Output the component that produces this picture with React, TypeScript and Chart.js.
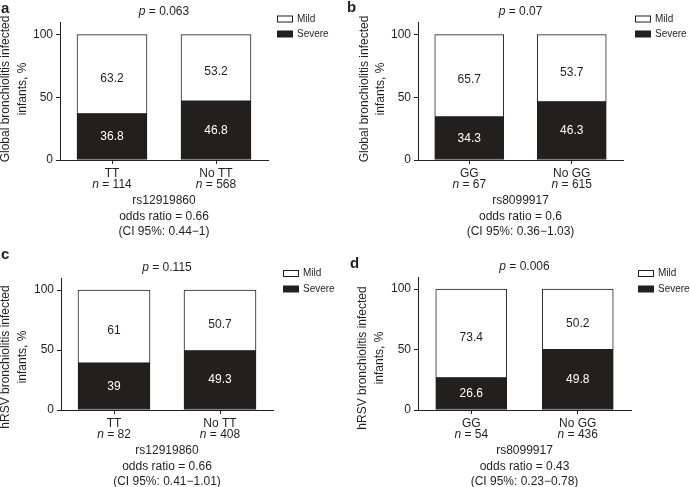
import React, { useEffect, useRef } from 'react';
import { Chart, registerables } from 'chart.js';

Chart.register(...registerables);

// ---------------- data ----------------
const seriesNames = ['Mild', 'Severe'];
const yTicks = [0, 50, 100];
const yMax = 110;

const panelLetters = ['a', 'b', 'c', 'd'];
const pValues = ['0.063', '0.07', '0.115', '0.006'];
const yTitleGlobal = ['Global bronchiolitis infected', 'infants, %'];
const yTitleHrsv = ['hRSV bronchiolitis infected', 'infants, %'];

const categoriesA = ['TT', 'No TT'];
const countsA = [114, 568];
const severeA = [36.8, 46.8];
const mildA = [63.2, 53.2];

const categoriesB = ['GG', 'No GG'];
const countsB = [67, 615];
const severeB = [34.3, 46.3];
const mildB = [65.7, 53.7];

const categoriesC = ['TT', 'No TT'];
const countsC = [82, 408];
const severeC = [39, 49.3];
const mildC = [61, 50.7];

const categoriesD = ['GG', 'No GG'];
const countsD = [54, 436];
const severeD = [26.6, 49.8];
const mildD = [73.4, 50.2];

const snps = ['rs12919860', 'rs8099917', 'rs12919860', 'rs8099917'];
const oddsRatios = ['0.66', '0.6', '0.66', '0.43'];
const confIntervals = ['0.44\u22121', '0.36\u22121.03', '0.41\u22121.01', '0.23\u22120.78'];

const panelCategories = [categoriesA, categoriesB, categoriesC, categoriesD];
const panelCounts = [countsA, countsB, countsC, countsD];
const panelSevere = [severeA, severeB, severeC, severeD];
const panelMild = [mildA, mildB, mildC, mildD];
const panelYTitles = [yTitleGlobal, yTitleGlobal, yTitleHrsv, yTitleHrsv];

// ---------------- layout / style ----------------
const FAMILY = '"Liberation Sans", Arial, Helvetica, sans-serif';
const TEXT = '#231f20';
const DARK = '#221f1f';

type PanelLayout = {
  x: number; y: number; w: number; h: number;
  l: number; r: number; t: number; b: number;
  bar: number;
  titleX: number; titleY: number;
  legendX: number; legendY: number[];
  letterX: number; letterY: number;
};

const layouts: PanelLayout[] = [
  { x: 0, y: 0, w: 345, h: 240, l: 60, r: 268, t: 22, b: 160, bar: 70, titleX: 5.75, titleY: 89, legendX: 277, legendY: [18.5, 34], letterX: 1, letterY: 13 },
  { x: 345, y: 0, w: 345, h: 240, l: 73, r: 278, t: 22, b: 160, bar: 69, titleX: 19.5, titleY: 89, legendX: 290, legendY: [18.5, 34], letterX: 2, letterY: 12 },
  { x: 0, y: 240, w: 345, h: 247, l: 61, r: 273, t: 38, b: 170, bar: 72, titleX: 5.75, titleY: 117, legendX: 283, legendY: [33, 49], letterX: 1, letterY: 19 },
  { x: 345, y: 240, w: 345, h: 247, l: 73, r: 286, t: 37, b: 170, bar: 71, titleX: 18, titleY: 118, legendX: 293, legendY: [33, 49], letterX: 5, letterY: 28 },
];

function drawItalicLead(ctx: CanvasRenderingContext2D, lead: string, rest: string, cx: number, cy: number, size: number) {
  ctx.font = `italic ${size}px ${FAMILY}`;
  const w1 = ctx.measureText(lead).width;
  ctx.font = `${size}px ${FAMILY}`;
  const w2 = ctx.measureText(rest).width;
  const x0 = cx - (w1 + w2) / 2;
  ctx.textAlign = 'left';
  ctx.textBaseline = 'middle';
  ctx.font = `italic ${size}px ${FAMILY}`;
  ctx.fillText(lead, x0, cy);
  ctx.font = `${size}px ${FAMILY}`;
  ctx.fillText(rest, x0 + w1, cy);
}

function makeOverlay(i: number) {
  return {
    id: 'overlay' + i,
    afterDraw(chart: any) {
      const ctx: CanvasRenderingContext2D = chart.ctx;
      const L = layouts[i];
      const ca = chart.chartArea;
      const cxMid = (ca.left + ca.right) / 2;
      ctx.save();
      ctx.fillStyle = TEXT;

      // panel letter
      ctx.font = `bold 15px ${FAMILY}`;
      ctx.textAlign = 'left';
      ctx.textBaseline = 'alphabetic';
      ctx.fillText(panelLetters[i], L.letterX, L.letterY);

      // p value
      drawItalicLead(ctx, 'p', ' = ' + pValues[i], cxMid, ca.top - 10, 12);

      // legend
      const bx = L.legendX;
      ctx.lineWidth = 1;
      ctx.strokeStyle = TEXT;
      ctx.fillStyle = '#ffffff';
      ctx.fillRect(bx + 0.5, L.legendY[0] - 2.5, 15, 6);
      ctx.strokeRect(bx + 0.5, L.legendY[0] - 2.5, 15, 6);
      ctx.fillStyle = DARK;
      ctx.fillRect(bx, L.legendY[1] - 3.5, 16, 7);
      ctx.fillStyle = TEXT;
      ctx.font = `10px ${FAMILY}`;
      ctx.textAlign = 'left';
      ctx.textBaseline = 'middle';
      ctx.fillText(seriesNames[0], bx + 20, L.legendY[0] + 0.5);
      ctx.fillText(seriesNames[1], bx + 20, L.legendY[1]);

      // y axis title
      ctx.save();
      ctx.translate(L.titleX, L.titleY);
      ctx.rotate(-Math.PI / 2);
      ctx.font = `12px ${FAMILY}`;
      ctx.textAlign = 'center';
      ctx.textBaseline = 'middle';
      const lines = panelYTitles[i];
      lines.forEach((ln, k) => ctx.fillText(ln, 0, k * 16.5));
      ctx.restore();

      // x labels
      const xs = chart.scales.x;
      const cats = panelCategories[i];
      const counts = panelCounts[i];
      cats.forEach((c, j) => {
        const px = xs.getPixelForValue(j);
        ctx.fillStyle = TEXT;
        ctx.font = `12px ${FAMILY}`;
        ctx.textAlign = 'center';
        ctx.textBaseline = 'middle';
        ctx.fillText(c, px, ca.bottom + 13.5);
        drawItalicLead(ctx, 'n', ' = ' + counts[j], px, ca.bottom + 25, 12);
      });

      // bottom text
      ctx.font = `12px ${FAMILY}`;
      ctx.textAlign = 'center';
      ctx.textBaseline = 'middle';
      ctx.fillText(snps[i], cxMid, ca.bottom + 40.5);
      ctx.fillText('odds ratio = ' + oddsRatios[i], cxMid, ca.bottom + 56.5);
      ctx.fillText('(CI 95%: ' + confIntervals[i] + ')', cxMid, ca.bottom + 71.5);

      // value labels
      [0, 1].forEach((d) => {
        const meta = chart.getDatasetMeta(d);
        const vals = d === 0 ? panelSevere[i] : panelMild[i];
        meta.data.forEach((el: any, j: number) => {
          const p = el.getProps(['x', 'y', 'base'], true);
          const cy = (p.y + p.base) / 2 + (d === 1 ? 4 : 0);
          ctx.fillStyle = d === 0 ? '#ffffff' : TEXT;
          ctx.font = `12px ${FAMILY}`;
          ctx.textAlign = 'center';
          ctx.textBaseline = 'middle';
          ctx.fillText(String(vals[j]), p.x, cy);
        });
      });

      ctx.restore();
    },
  };
}

function buildChart(canvas: HTMLCanvasElement, i: number) {
  const L = layouts[i];
  const gridOpts = {
    display: true,
    drawOnChartArea: false,
    drawTicks: true,
    tickLength: 4,
    color: TEXT,
    tickColor: TEXT,
    lineWidth: 1,
  };
  return new Chart(canvas, {
    type: 'bar',
    data: {
      labels: panelCategories[i],
      datasets: [
        {
          label: seriesNames[1],
          data: panelSevere[i],
          backgroundColor: DARK,
          borderColor: TEXT,
          borderWidth: 1,
          borderSkipped: false,
          barThickness: L.bar,
        },
        {
          label: seriesNames[0],
          data: panelMild[i],
          backgroundColor: '#ffffff',
          borderColor: TEXT,
          borderWidth: 1,
          borderSkipped: false,
          barThickness: L.bar,
        },
      ],
    },
    options: {
      responsive: false,
      maintainAspectRatio: false,
      animation: false,
      devicePixelRatio: 1,
      layout: { padding: { left: 0, top: L.t, right: L.w - L.r, bottom: 0 } },
      plugins: {
        legend: { display: false },
        title: { display: false },
        tooltip: { enabled: false },
      },
      scales: {
        x: {
          stacked: true,
          offset: true,
          grid: { ...gridOpts, offset: false },
          border: { display: true, color: TEXT, width: 1 },
          ticks: { display: false },
          afterFit: (s: any) => { s.height = L.h - L.b; },
        },
        y: {
          stacked: true,
          min: 0,
          max: yMax,
          grid: gridOpts,
          border: { display: true, color: TEXT, width: 1 },
          ticks: { color: TEXT, padding: 3, font: { family: FAMILY, size: 12 } },
          afterBuildTicks: (s: any) => { s.ticks = yTicks.map((v) => ({ value: v })); },
          afterFit: (s: any) => { s.width = L.l; },
        },
      },
    } as any,
    plugins: [makeOverlay(i)],
  });
}

export default function App() {
  const refs = [useRef<HTMLCanvasElement>(null), useRef<HTMLCanvasElement>(null), useRef<HTMLCanvasElement>(null), useRef<HTMLCanvasElement>(null)];

  useEffect(() => {
    const charts = refs.map((r, i) => (r.current ? buildChart(r.current, i) : null));
    return () => { charts.forEach((c) => c && c.destroy()); };
  }, []);

  return (
    <div style={{ position: 'absolute', left: 0, top: 0, width: 690, height: 487, background: '#ffffff' }}>
      {layouts.map((L, i) => (
        <canvas
          key={i}
          ref={refs[i]}
          width={L.w}
          height={L.h}
          style={{ position: 'absolute', left: L.x, top: L.y, width: L.w, height: L.h, display: 'block' }}
        />
      ))}
    </div>
  );
}
